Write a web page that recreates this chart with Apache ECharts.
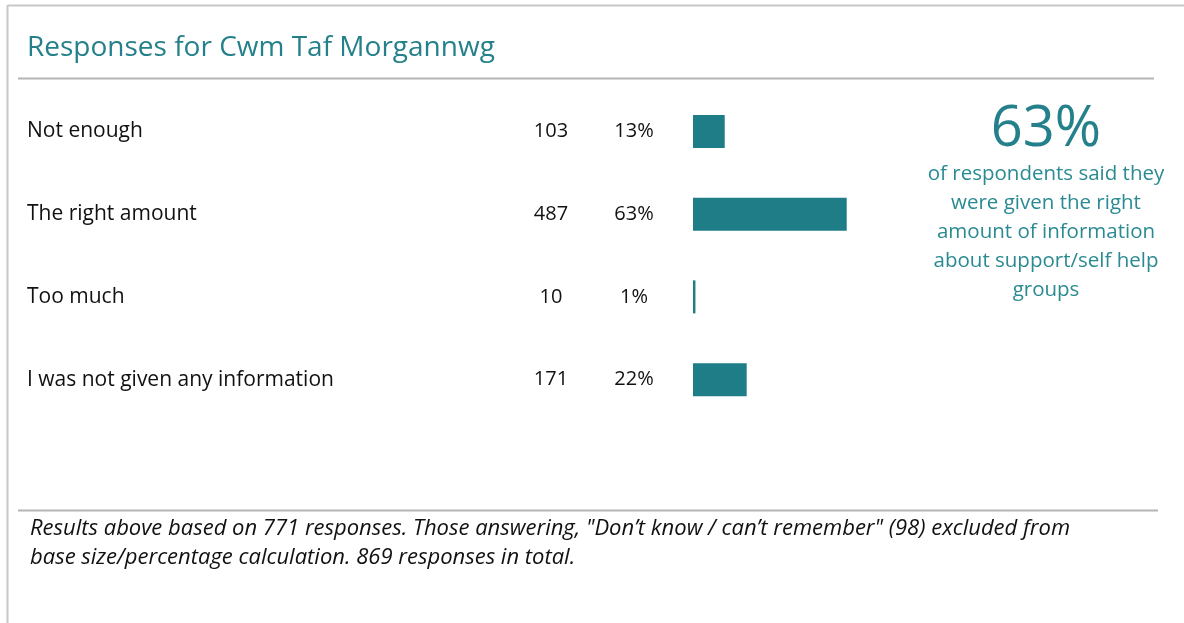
<!DOCTYPE html>
<html lang="en">
<head>
    <meta charset="UTF-8">
    <title>Responses for Cwm Taf Morgannwg</title>
    <script src="https://cdn.jsdelivr.net/npm/echarts@6/dist/echarts.min.js"></script>
    <style>
        html, body { margin: 0; padding: 0; background: #fff; }
        #chart { width: 1184px; height: 623px; }
    </style>
</head>
<body>
<div id="chart"></div>
<script>
    // data
    var categories = ['Not enough', 'The right amount', 'Too much', 'I was not given any information']
    var counts = [103, 487, 10, 171]
    var percents = [13, 63, 1, 22]

    var teal = '#1f7d87'
    var font = '"Open Sans", Lato, sans-serif'

    var chart = echarts.init(document.getElementById('chart'))

    chart.setOption({
        backgroundColor: '#fff',
        animation: false,
        grid: { left: 693, top: 90, width: 244, height: 331 },
        xAxis: {
            type: 'value', min: 0, max: 100,
            show: false
        },
        yAxis: {
            type: 'category',
            data: categories,
            inverse: true,
            axisLine: { show: false },
            axisTick: { show: false },
            splitLine: { show: false },
            axisLabel: {
                margin: 666,
                align: 'left',
                formatter: function (value, idx) {
                    return '{a|' + value + '}{b|' + counts[idx] + '}{c|' + percents[idx] + '%}'
                },
                rich: {
                    a: { width: 484, align: 'left', fontSize: 21, color: '#111', fontFamily: font },
                    b: { width: 80, align: 'center', fontSize: 20, color: '#111', fontFamily: font },
                    c: { width: 86, align: 'center', fontSize: 20, color: '#111', fontFamily: font }
                }
            }
        },
        series: [{
            type: 'bar',
            data: percents,
            barWidth: 33,
            itemStyle: { color: teal }
        }],
        graphic: [
            // frame
            { type: 'line', shape: { x1: 8, y1: 5.5, x2: 1184, y2: 5.5 }, style: { stroke: '#c8c8c8', lineWidth: 2 } },
            { type: 'line', shape: { x1: 7.5, y1: 5, x2: 7.5, y2: 623 }, style: { stroke: '#c8c8c8', lineWidth: 2 } },
            // title
            {
                type: 'text', left: 27, top: 34,
                style: { text: 'Responses for Cwm Taf Morgannwg', fill: '#24808a', font: '28px ' + font }
            },
            { type: 'line', shape: { x1: 18, y1: 78.5, x2: 1154, y2: 78.5 }, style: { stroke: '#b4b4b4', lineWidth: 2 } },
            // callout
            {
                type: 'text', x: 1046, y: 102,
                style: { text: '63%', fill: '#24808a', font: '56px ' + font, align: 'center', verticalAlign: 'top' }
            },
            {
                type: 'text', x: 1046, y: 160,
                style: {
                    text: 'of respondents said they\nwere given the right\namount of information\nabout support/self help\ngroups',
                    fill: '#2a8a92', font: '20.5px ' + font, align: 'center', verticalAlign: 'top', lineHeight: 29
                }
            },
            // footnote
            { type: 'line', shape: { x1: 18, y1: 510.5, x2: 1158, y2: 510.5 }, style: { stroke: '#b4b4b4', lineWidth: 2 } },
            {
                type: 'text', left: 30, top: 514,
                style: {
                    text: 'Results above based on 771 responses. Those answering, "Don\u2019t know / can\u2019t remember" (98) excluded from\nbase size/percentage calculation. 869 responses in total.',
                    fill: '#111', font: 'italic 22px ' + font, lineHeight: 29
                }
            }
        ]
    })
</script>
</body>
</html>
